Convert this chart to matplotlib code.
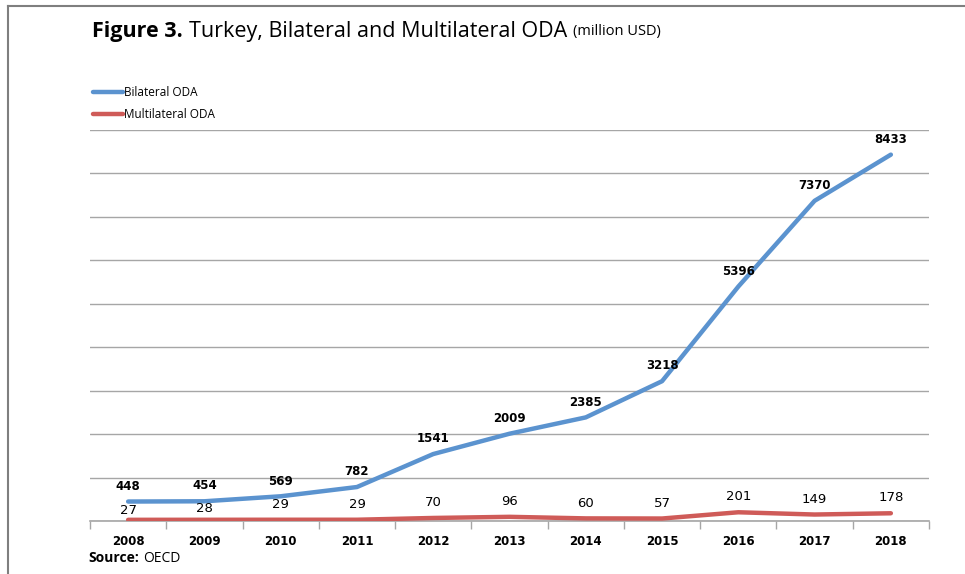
import matplotlib
matplotlib.use("Agg")
import matplotlib.pyplot as plt
from matplotlib.lines import Line2D

years = ["2008", "2009", "2010", "2011", "2012", "2013", "2014", "2015", "2016", "2017", "2018"]
bilateral = [448, 454, 569, 782, 1541, 2009, 2385, 3218, 5396, 7370, 8433]
multilateral = [27, 28, 29, 29, 70, 96, 60, 57, 201, 149, 178]

BLUE = "#5B93CF"
RED = "#CF5B58"
GRID = "#A6A6A6"

fig = plt.figure(figsize=(9.65, 5.74), dpi=100)
ax = fig.add_axes([90 / 965, 53 / 574, 839 / 965, 391 / 574])

x = list(range(len(years)))
ax.plot(x, bilateral, color=BLUE, lw=3.2, solid_capstyle="round", label="Bilateral ODA", zorder=3)
ax.plot(x, multilateral, color=RED, lw=3.2, solid_capstyle="round", label="Multilateral ODA", zorder=3)

ax.set_xlim(-0.5, len(years) - 0.5)
ax.set_ylim(0, 9000)
ax.set_yticks(range(0, 9001, 1000))
ax.yaxis.set_tick_params(length=0, labelleft=False)
ax.grid(axis="y", color=GRID, lw=1)
ax.set_axisbelow(True)
for s in ["left", "right", "top"]:
    ax.spines[s].set_visible(False)
ax.spines["bottom"].set_color(GRID)
ax.spines["bottom"].set_linewidth(1.2)

# category labels centred, ticks between categories
ax.set_xticks(x)
ax.set_xticklabels(years, fontsize=8.5, fontweight="bold", family="DejaVu Sans")
ax.tick_params(axis="x", length=0, pad=10)
ax.set_xticks([i - 0.5 for i in range(len(years) + 1)], minor=True)
ax.tick_params(axis="x", which="minor", length=6, color=GRID, width=1)

for xi, v in zip(x, bilateral):
    ax.annotate(str(v), (xi, v), xytext=(0, 11), textcoords="offset points",
                ha="center", va="center", fontsize=8.5, fontweight="bold", family="DejaVu Sans")

multi_off = [7, 8, 11, 11, 11, 11, 11, 11, 11, 11, 11]
for xi, v, off in zip(x, multilateral, multi_off):
    ax.annotate(str(v), (xi, v), xytext=(0, off), textcoords="offset points",
                ha="center", va="center", fontsize=9.5, family="DejaVu Sans")

# legend drawn manually in figure coords (pixels -> fraction)
W, H = 965, 574
for i, (lab, col) in enumerate([("Bilateral ODA", BLUE), ("Multilateral ODA", RED)]):
    yy = 1 - (92 + 22 * i) / H
    fig.add_artist(Line2D([93 / W, 123 / W], [yy, yy], color=col, lw=3.2, solid_capstyle="round"))
    fig.text(124 / W, yy, lab, fontsize=8.5, family="Open Sans", va="center", ha="left")

# title in three pieces
fig.canvas.draw()
r = fig.canvas.get_renderer()
ty = 1 - 31 / H
t1 = fig.text(92 / W, ty, "Figure 3.", fontsize=15.5, fontweight="bold", family="Open Sans", va="center")
x1 = t1.get_window_extent(r).x1 / W
t2 = fig.text(x1 + 6 / W, ty, "Turkey, Bilateral and Multilateral ODA", fontsize=15.5, family="Open Sans", va="center")
x2 = t2.get_window_extent(r).x1 / W
fig.text(x2 + 6 / W, ty - 1 / H, "(million USD)", fontsize=10.5, family="Open Sans", va="center")

sy = 1 - 558 / H
s1 = fig.text(88 / W, sy, "Source:", fontsize=10, fontweight="bold", family="Open Sans", va="center")
sx = s1.get_window_extent(r).x1 / W
fig.text(sx + 4 / W, sy, "OECD", fontsize=10, family="Open Sans", va="center")

# page frame (top and left edge)
fig.add_artist(Line2D([8 / W, 1], [1 - 6 / H, 1 - 6 / H], color="#7F7F7F", lw=1.5))
fig.add_artist(Line2D([8 / W, 8 / W], [0, 1 - 6 / H], color="#7F7F7F", lw=1.5))

fig.savefig("out.png", dpi=100)
plt.close(fig)
